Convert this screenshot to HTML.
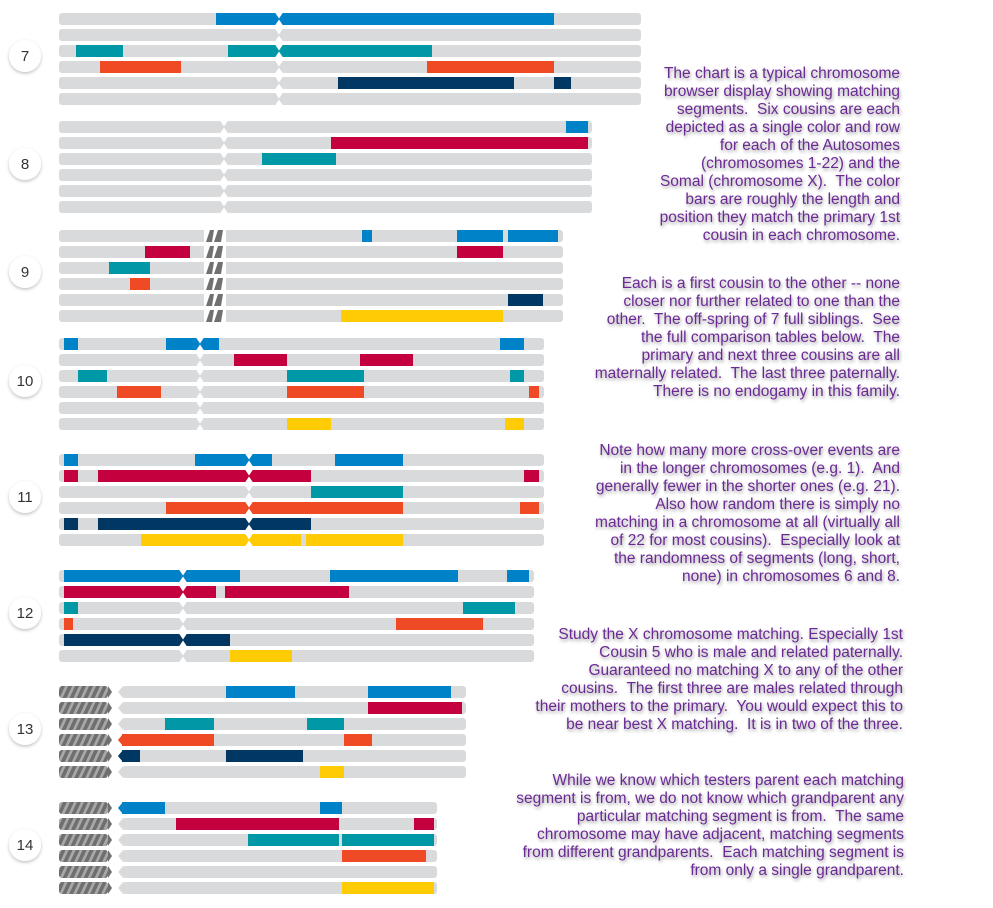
<!DOCTYPE html>
<html><head><meta charset="utf-8"><style>
html,body{margin:0;padding:0;background:#fff;width:993px;height:908px;overflow:hidden}
svg{display:block}
.t text{font-family:"Liberation Sans",Arial,sans-serif;font-size:15.5px;fill:#6a2a94;text-anchor:end;white-space:pre}
.n{font-family:"Liberation Sans",Arial,sans-serif;font-size:15px;fill:#333;text-anchor:middle}
</style></head><body>
<svg id="s" width="993" height="908" xmlns="http://www.w3.org/2000/svg">
<defs>
<filter id="sh" x="-10%" y="-30%" width="120%" height="160%"><feDropShadow dx="1" dy="2" stdDeviation="1.6" flood-color="#000" flood-opacity="0.4"/></filter>
<filter id="cs" x="-30%" y="-30%" width="160%" height="160%"><feDropShadow dx="0" dy="1.5" stdDeviation="1.5" flood-color="#000" flood-opacity="0.25"/></filter>
<pattern id="hp" width="7" height="12" patternUnits="userSpaceOnUse" patternTransform="skewX(-25)"><rect width="7" height="12" fill="#6f6f6f"/><rect width="3" height="12" fill="#a8a8a8"/></pattern>
</defs>
<g id="bars"></g>
<g class="t" filter="url(#sh)">
<text x="900" y="78">The chart is a typical chromosome</text>
<text x="900" y="96">browser display showing matching</text>
<text x="900" y="114">segments.  Six cousins are each</text>
<text x="900" y="132">depicted as a single color and row</text>
<text x="900" y="150">for each of the Autosomes</text>
<text x="900" y="168">(chromosomes 1-22) and the</text>
<text x="900" y="186">Somal (chromosome X).  The color</text>
<text x="900" y="204">bars are roughly the length and</text>
<text x="900" y="222">position they match the primary 1st</text>
<text x="900" y="240">cousin in each chromosome.</text>

<text x="900" y="288">Each is a first cousin to the other -- none</text>
<text x="900" y="306">closer nor further related to one than the</text>
<text x="900" y="324">other.  The off-spring of 7 full siblings.  See</text>
<text x="900" y="342">the full comparison tables below.  The</text>
<text x="900" y="360">primary and next three cousins are all</text>
<text x="900" y="378">maternally related.  The last three paternally.</text>
<text x="900" y="396">There is no endogamy in this family.</text>

<text x="900" y="455">Note how many more cross-over events are</text>
<text x="900" y="473">in the longer chromosomes (e.g. 1).  And</text>
<text x="900" y="491">generally fewer in the shorter ones (e.g. 21).</text>
<text x="900" y="509">Also how random there is simply no</text>
<text x="900" y="527">matching in a chromosome at all (virtually all</text>
<text x="900" y="545">of 22 for most cousins).  Especially look at</text>
<text x="900" y="563">the randomness of segments (long, short,</text>
<text x="900" y="581">none) in chromosomes 6 and 8.</text>

<text x="903" y="639">Study the X chromosome matching. Especially 1st</text>
<text x="903" y="657">Cousin 5 who is male and related paternally.</text>
<text x="903" y="675">Guaranteed no matching X to any of the other</text>
<text x="903" y="693">cousins.  The first three are males related through</text>
<text x="903" y="711">their mothers to the primary.  You would expect this to</text>
<text x="903" y="729">be near best X matching.  It is in two of the three.</text>

<text x="904" y="785">While we know which testers parent each matching</text>
<text x="904" y="803">segment is from, we do not know which grandparent any</text>
<text x="904" y="821">particular matching segment is from.  The same</text>
<text x="904" y="839">chromosome may have adjacent, matching segments</text>
<text x="904" y="857">from different grandparents.  Each matching segment is</text>
<text x="904" y="875">from only a single grandparent.</text>
</g>
<g>
<circle cx="25" cy="56" r="16" fill="#fff" filter="url(#cs)"/><text class="n" x="25" y="61">7</text>
<circle cx="25" cy="164" r="16" fill="#fff" filter="url(#cs)"/><text class="n" x="25" y="169">8</text>
<circle cx="25" cy="272" r="16" fill="#fff" filter="url(#cs)"/><text class="n" x="25" y="277">9</text>
<circle cx="25" cy="381" r="16" fill="#fff" filter="url(#cs)"/><text class="n" x="25" y="386">10</text>
<circle cx="25" cy="497" r="16" fill="#fff" filter="url(#cs)"/><text class="n" x="25" y="502">11</text>
<circle cx="25" cy="613" r="16" fill="#fff" filter="url(#cs)"/><text class="n" x="25" y="618">12</text>
<circle cx="25" cy="729" r="16" fill="#fff" filter="url(#cs)"/><text class="n" x="25" y="734">13</text>
<circle cx="25" cy="845" r="16" fill="#fff" filter="url(#cs)"/><text class="n" x="25" y="850">14</text>
</g>
</svg>
<script>
var C={b:"#0082c9",r:"#c5003e",t:"#0098a6",o:"#ef4a23",n:"#003763",y:"#ffcb05"};
var chroms=[
 {y:13,x1:59,x2:641,c:279,type:"n",rows:[[["b",216,554]],[],[["t",76,123],["t",228,432]],[["o",100,181],["o",427,554]],[["n",338,514],["n",554,571]],[]]},
 {y:121,x1:59,x2:592,c:224,type:"n",rows:[[["b",566,588]],[["r",331,588]],[["t",262,336]],[],[],[]]},
 {y:230,x1:59,x2:563,c:215,type:"h9",rows:[[["b",362,372],["b",457,503],["b",508,558]],[["r",145,190],["r",457,503]],[["t",109,150]],[["o",130,150]],[["n",508,543]],[["y",341,503]]]},
 {y:338,x1:59,x2:544,c:200,type:"n",rows:[[["b",64,78],["b",166,219],["b",500,524]],[["r",234,287],["r",360,413]],[["t",78,107],["t",287,364],["t",510,524]],[["o",117,161],["o",287,364],["o",529,539]],[],[["y",287,331],["y",505,524]]]},
 {y:454,x1:59,x2:544,c:249,type:"n",rows:[[["b",64,78],["b",195,272],["b",335,403]],[["r",64,78],["r",98,311],["r",524,539]],[["t",311,403]],[["o",166,403],["o",520,539]],[["n",64,78],["n",98,311]],[["y",141,301],["y",306,403]]]},
 {y:570,x1:59,x2:534,c:183,type:"n",rows:[[["b",64,240],["b",330,458],["b",507,529]],[["r",64,216],["r",225,349]],[["t",64,78],["t",463,515]],[["o",64,73],["o",396,483]],[["n",64,230]],[["y",230,292]]]},
 {y:686,x1:59,x2:466,type:"a",rows:[[["b",226,295],["b",368,451]],[["r",368,462]],[["t",165,214],["t",307,344]],[["o",122,214],["o",344,372]],[["n",122,140],["n",226,303]],[["y",320,344]]]},
 {y:802,x1:59,x2:437,type:"a",rows:[[["b",122,165],["b",320,342]],[["r",176,339],["r",414,434]],[["t",248,339],["t",342,434]],[["o",342,426]],[],[["y",342,434]]]}
];
var out="",H=12;
chroms.forEach(function(ch){
 ch.rows.forEach(function(row,i){
  var y=ch.y+i*16;
  if(ch.type=="a"){
   out+='<rect x="59" y="'+y+'" width="49" height="'+H+'" rx="3" fill="url(#hp)"/>';
   out+='<polygon points="108,'+y+' 112,'+(y+6)+' 108,'+(y+H)+'" fill="#707070"/>';
   out+='<rect x="122" y="'+y+'" width="'+(ch.x2-122)+'" height="'+H+'" rx="3" fill="#d9dadb"/>';
   out+='<polygon points="123,'+y+' 118,'+(y+6)+' 123,'+(y+H)+'" fill="#d9dadb"/>';
   row.forEach(function(s){
    out+='<rect x="'+s[1]+'" y="'+y+'" width="'+(s[2]-s[1])+'" height="'+H+'" fill="'+C[s[0]]+'"/>';
    if(s[1]<=122) out+='<polygon points="123,'+y+' 118,'+(y+6)+' 123,'+(y+H)+'" fill="'+C[s[0]]+'"/>';
   });
  } else {
   out+='<rect x="'+ch.x1+'" y="'+y+'" width="'+(ch.x2-ch.x1)+'" height="'+H+'" rx="3" fill="#d9dadb"/>';
   row.forEach(function(s){
    out+='<rect x="'+s[1]+'" y="'+y+'" width="'+(s[2]-s[1])+'" height="'+H+'" fill="'+C[s[0]]+'"/>';
   });
   var c=ch.c;
   if(ch.type=="n"){
    out+='<polygon points="'+(c-4)+','+(y-0.5)+' '+(c+4)+','+(y-0.5)+' '+c+','+(y+5.5)+'" fill="#fff"/>';
    out+='<polygon points="'+(c-4)+','+(y+H+0.5)+' '+(c+4)+','+(y+H+0.5)+' '+c+','+(y+6.5)+'" fill="#fff"/>';
   } else {
    out+='<rect x="'+(c-11)+'" y="'+y+'" width="22" height="'+H+'" fill="#fff"/>';
    out+='<polygon points="'+(c-9)+','+(y+H)+' '+(c-5)+','+y+' '+(c-1)+','+y+' '+(c-3)+','+(y+H)+'" fill="#707070"/>';
    out+='<polygon points="'+(c-1)+','+(y+H)+' '+(c+3)+','+y+' '+(c+8)+','+y+' '+(c+6)+','+(y+H)+'" fill="#707070"/>';
   }
  }
 });
});
document.getElementById("bars").innerHTML=out;
</script>
</body></html>
